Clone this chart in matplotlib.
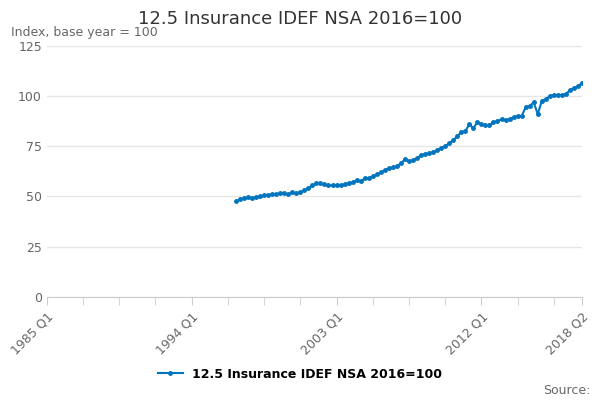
import matplotlib.pyplot as plt

title = "12.5 Insurance IDEF NSA 2016=100"
start_quarter = 47  # 1996 Q4, counted from 1985 Q1
values = [
    47.5, 48.5, 49, 49.5, 49, 49.5, 50, 50.5, 50.5, 51, 51, 51.5, 51.5, 51,
    52, 51.5, 52, 53, 54, 55.5, 56.5, 56.5, 56, 55.5, 55.5, 55.5, 55.5, 56,
    56.5, 57, 58, 57.5, 59, 59, 60, 61, 62, 63, 64, 64.5, 65,
    66.5, 68.5, 67.5, 68, 69, 70.5, 71, 71.5, 72, 73, 74, 75, 76.5, 78, 80, 82,
    82.5, 86, 84, 87, 86, 85.5, 85.5, 87, 87.5, 88.5, 88, 88.5, 89.5, 90, 90,
    94.5, 95, 97, 91, 97.5, 98.5, 100, 100.5, 100.5, 100.5, 101, 103, 104,
    105, 106.5, 108,
]
tick_labels = ["1985 Q1", "1994 Q1", "2003 Q1", "2012 Q1", "2018 Q2"]
tick_positions = [0, 36, 72, 108, 133]

x = list(range(start_quarter, start_quarter + len(values)))

fig = plt.figure(figsize=(6, 4), dpi=100)
ax = fig.add_axes([0.078, 0.258, 0.892, 0.627])
ax.plot(x, values, color="#0075bf", lw=1.5, marker="o", ms=2.5, label=title)

ax.set_xlim(0, 133)
ax.set_ylim(0, 125)
ax.set_yticks([0, 25, 50, 75, 100, 125])
ax.set_xticks(tick_positions)
ax.set_xticklabels(tick_labels, rotation=45, ha="right", rotation_mode="anchor")
ax.set_xticks(range(0, 134, 9), minor=True)
ax.tick_params(axis="x", which="both", length=6, color="#cccccc", labelcolor="#666666", labelsize=9)
ax.tick_params(axis="y", length=0, labelcolor="#666666", labelsize=9)
ax.grid(axis="y", color="#e6e6e6", lw=1)
ax.set_axisbelow(True)
for side in ["top", "right", "left"]:
    ax.spines[side].set_visible(False)
ax.spines["bottom"].set_color("#cccccc")

fig.text(0.5, 0.952, title, ha="center", va="center", fontsize=13, color="#333333", weight="medium")
fig.text(0.018, 0.918, "Index, base year = 100", ha="left", va="center", fontsize=9, color="#666666")
fig.legend(loc="center", bbox_to_anchor=(0.5, 0.065), frameon=False, prop={"size": 9, "weight": "bold"})
fig.text(0.985, 0.025, "Source:", ha="right", va="center", fontsize=9, color="#666666")

fig.savefig("out.png", dpi=100)
